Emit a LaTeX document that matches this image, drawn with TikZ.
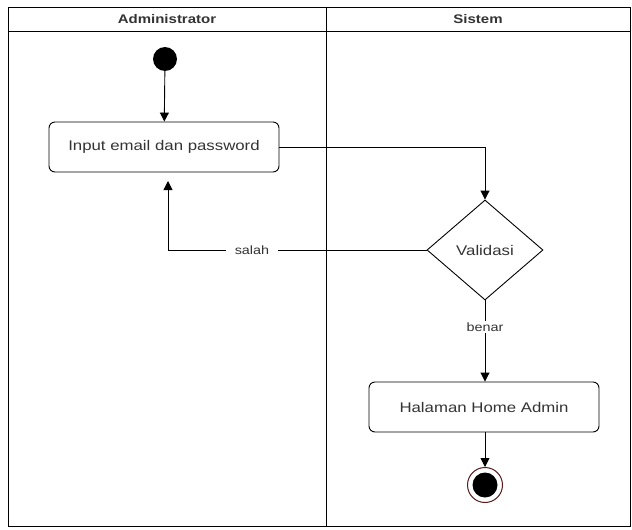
\documentclass[tikz,border=0pt]{standalone}
\usepackage{fontspec}
\setmainfont{Liberation Sans}[FakeStretch=1.2]
\usetikzlibrary{shapes.geometric,arrows.meta}
\definecolor{txt}{HTML}{333333}
\definecolor{endring}{HTML}{5A1A1A}
\begin{document}
\begin{tikzpicture}[x=1pt,y=-1pt,
  lane/.style={draw=black,line width=0.9pt},
  action/.style={draw=black,line width=0.9pt,rounded corners=6pt,minimum width=230pt,minimum height=50pt,inner sep=0pt,font=\fontsize{14}{16}\selectfont,text=txt},
  decision/.style={draw=black,line width=0.9pt,diamond,aspect=1.16,minimum width=116pt,minimum height=100pt,inner sep=0pt,font=\fontsize{14}{16}\selectfont,text=txt},
  flow/.style={draw=black,line width=0.9pt,-{Triangle[length=9pt,width=9pt]}},
  lbl/.style={fill=white,font=\fontsize{12}{14}\selectfont,text=txt,inner xsep=9pt,inner ysep=2pt},
  hdr/.style={font=\bfseries\fontsize{12.5}{14}\selectfont,text=txt}]
\useasboundingbox (0,0) rectangle (632,530);
% swimlanes
\draw[lane] (8,7) rectangle (630,526);
\draw[lane] (8,31) -- (630,31);
\draw[lane] (326,7) -- (326,526);
\node[hdr] (hadmin) at (167,19) {Administrator};
\node[hdr] (hsis) at (478,19) {Sistem};
% nodes
\node[circle,fill=black,minimum size=24pt,inner sep=0pt] (start) at (165,59) {};
\node[action] (input) at (164,147) {Input email dan password};
\node[decision] (valid) at (485,250) {Validasi};
\node[action] (home) at (484,407) {Halaman Home Admin};
\node[circle,draw=endring,line width=1pt,fill=white,minimum size=35pt,inner sep=0pt] (stop) at (485,485) {};
\node[circle,fill=black,minimum size=25pt,inner sep=0pt] at (stop) {};
\coordinate (back) at (168,181);
% connectors
\draw[flow] (start) -- (input);
\draw[flow] (input.east) -| (valid.north);
\draw[flow] (valid.west) -- (168,250) -- (back);
\node[lbl] (salah) at (252,250) {salah};
\draw[flow] (valid.south) -- (home.north -| valid.south);
\node[lbl,inner xsep=2pt] (benar) at (485,327) {benar};
\draw[flow] (home.south -| stop.north) -- (stop.north);
\end{tikzpicture}
\end{document}
